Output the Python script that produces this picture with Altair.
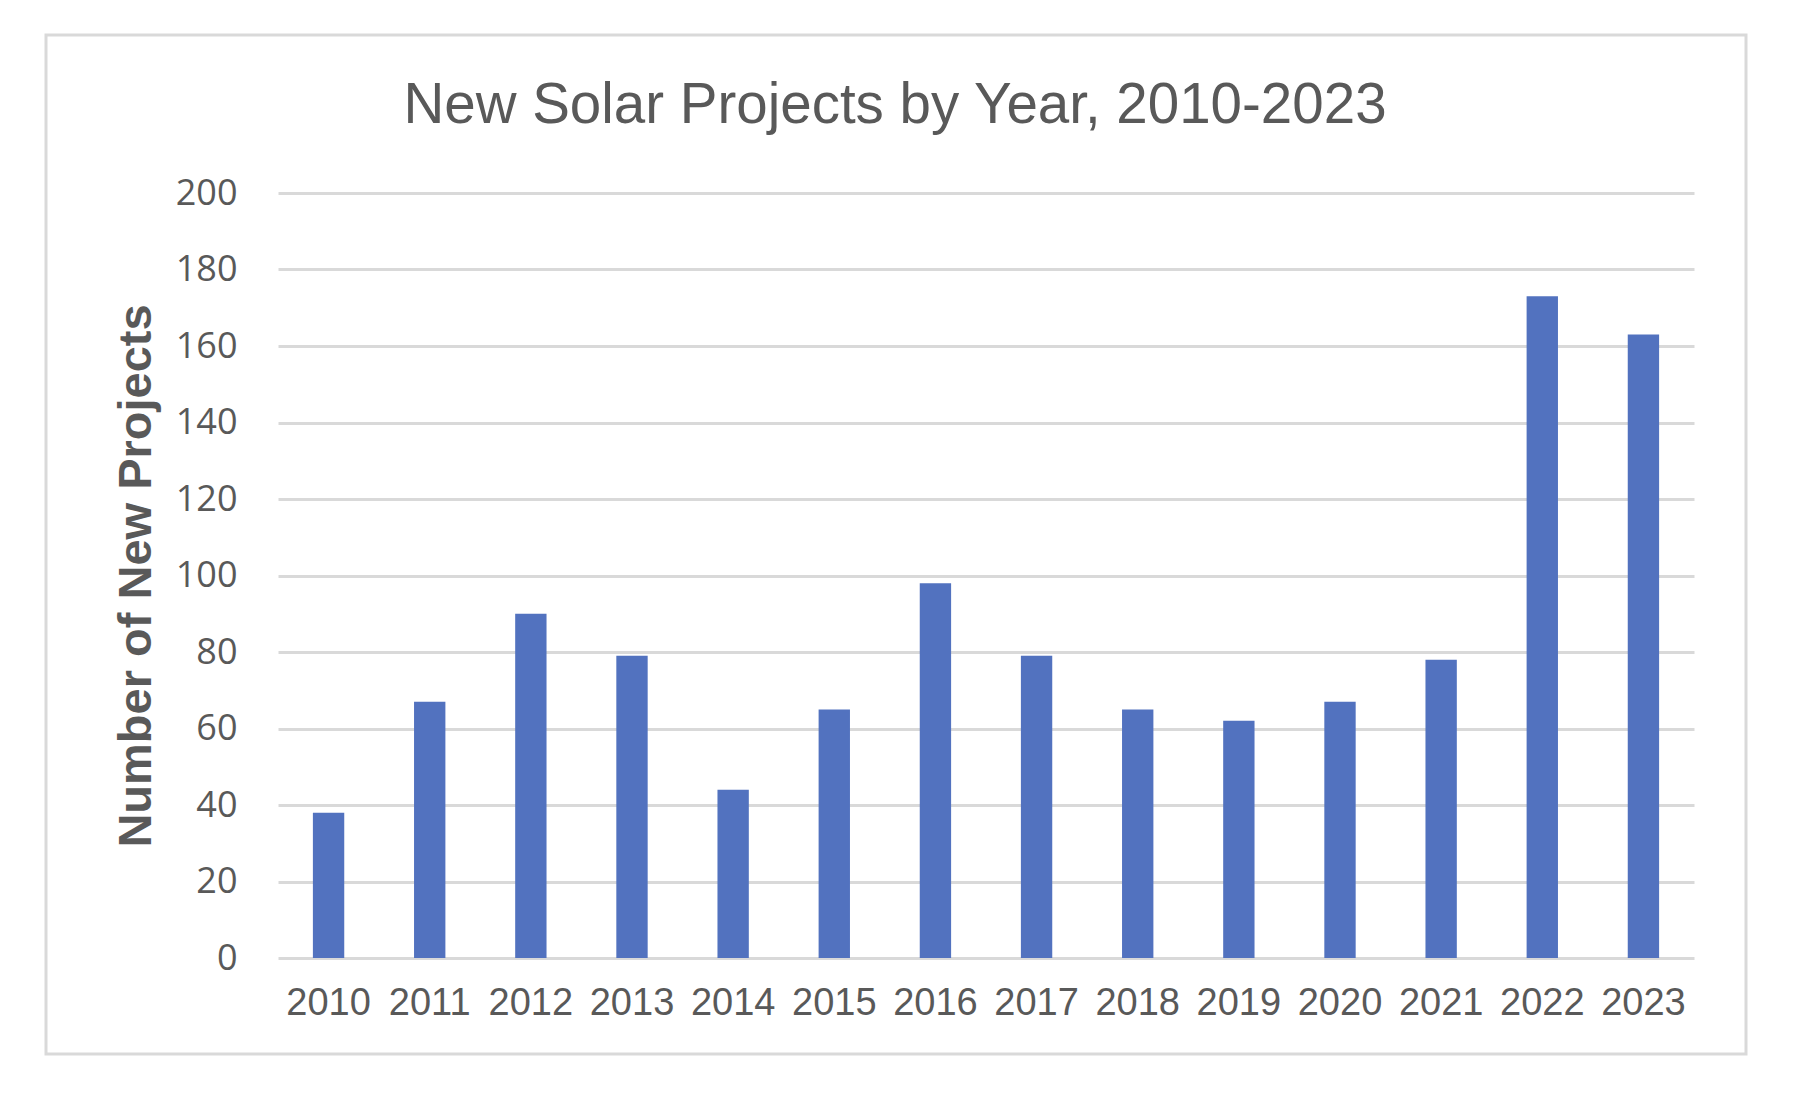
import altair as alt
import pandas as pd

years = ["2010", "2011", "2012", "2013", "2014", "2015", "2016",
         "2017", "2018", "2019", "2020", "2021", "2022", "2023"]
projects = [38, 67, 90, 79, 44, 65, 98, 79, 65, 62, 67, 78, 173, 163]
y_ticks = [0, 20, 40, 60, 80, 100, 120, 140, 160, 180, 200]
chart_title = "New Solar Projects by Year, 2010-2023"
y_title = "Number of New Projects"

df = pd.DataFrame({"Year": years, "Projects": projects})

W, H = 1416, 765
TEXT = "#595959"
GRID = "#d9d9d9"

bars = alt.Chart(df).mark_bar(color="#5272BF").encode(
    x=alt.X("Year:N", sort=years,
            scale=alt.Scale(paddingInner=0.69, paddingOuter=0.345),
            axis=alt.Axis(title=None, labelAngle=0, domain=False, ticks=False,
                          labelFont="Liberation Sans", labelFontSize=38,
                          labelColor=TEXT, labelPadding=26, grid=False)),
    y=alt.Y("Projects:Q", scale=alt.Scale(domain=[0, 200], nice=False),
            axis=alt.Axis(values=y_ticks, title=y_title, domain=False, ticks=False,
                          labelFont="Open Sans", labelFontSize=36, labelColor=TEXT,
                          labelPadding=41, grid=True, gridColor=GRID, gridWidth=3,
                          titleFont="Liberation Sans", titleFontSize=47,
                          titleFontWeight="bold", titleColor=TEXT,
                          titleX=-128, titleY=H / 2, titleBaseline="alphabetic",
                          titleAlign="center")),
)

title_layer = alt.Chart(pd.DataFrame({"t": [chart_title]})).mark_text(
    font="Liberation Sans", fontSize=56.5, color=TEXT, align="center",
    baseline="alphabetic"
).encode(text="t:N", x=alt.value(617), y=alt.value(-70))

frame = alt.Chart(pd.DataFrame({"f": [1]})).mark_rect(
    fill="transparent", stroke=GRID, strokeWidth=3
).encode(x=alt.value(-232), x2=alt.value(1468), y=alt.value(-158), y2=alt.value(861))

chart = alt.layer(frame, bars, title_layer).properties(
    width=W, height=H,
    autosize=alt.AutoSizeParams(type="none"),
    padding={"left": 270, "top": 185, "right": 80, "bottom": 118},
    background="white",
).configure_view(strokeWidth=0)

chart.save("out.html", embed_options={"renderer": "svg", "actions": False})
